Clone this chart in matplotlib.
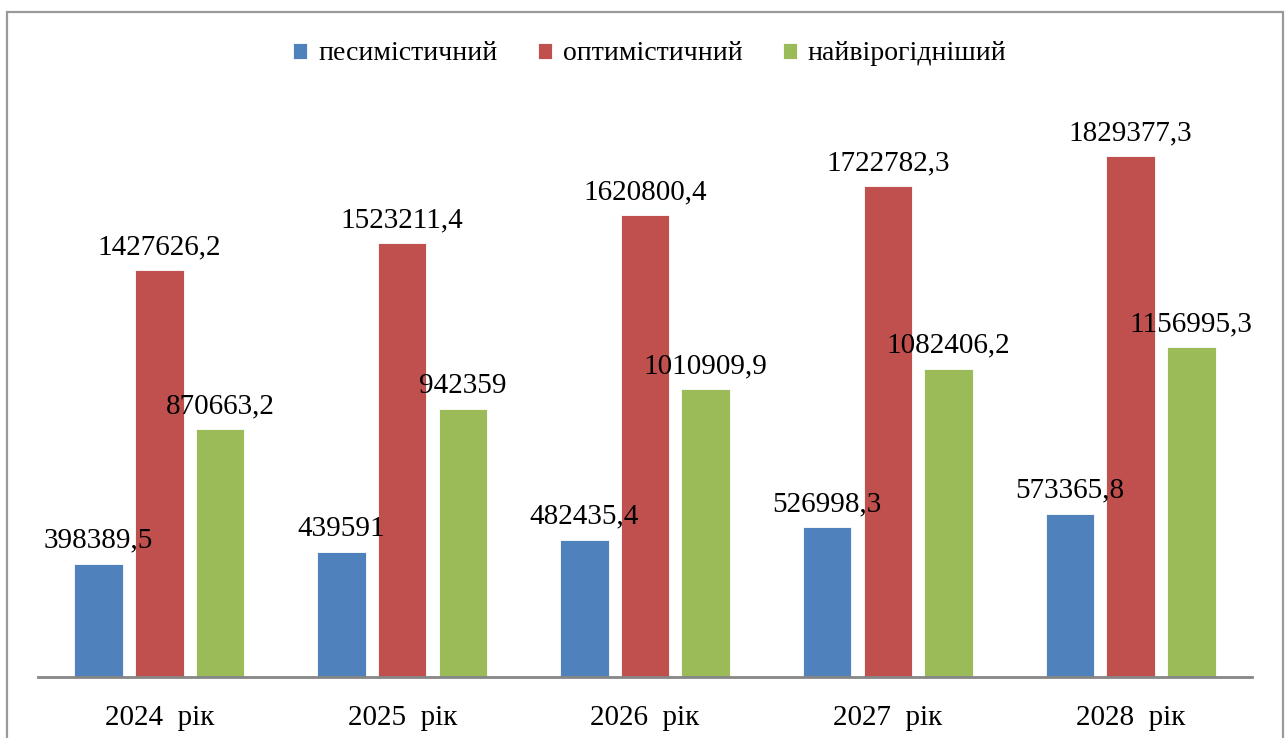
import matplotlib
matplotlib.use("Agg")
import matplotlib.pyplot as plt
import numpy as np
from matplotlib.patches import Rectangle

years = ["2024  рік", "2025  рік", "2026  рік", "2027  рік", "2028  рік"]
series_names = ["песимістичний", "оптимістичний", "найвірогідніший"]
pessimistic = [398389.5, 439591, 482435.4, 526998.3, 573365.8]
optimistic = [1427626.2, 1523211.4, 1620800.4, 1722782.3, 1829377.3]
most_likely = [870663.2, 942359, 1010909.9, 1082406.2, 1156995.3]
colors = ["#4F81BD", "#C0504D", "#9BBB59"]

plt.rcParams["font.family"] = ["Liberation Serif", "DejaVu Serif"]

W, H = 1287, 738
fig = plt.figure(figsize=(W / 100, H / 100), dpi=100)

# outer chart frame
fig.patches.append(Rectangle((7 / W, -0.05), (1283 - 7) / W, 1.05 - 12 / H,
                             transform=fig.transFigure, fill=False,
                             edgecolor="#9a9a9a", linewidth=1.6))

ax = fig.add_axes([38 / W, 61 / H, (1252 - 38) / W, (677 - 100) / H])
x = np.arange(len(years))
width = 0.2
offsets = [-0.25, 0.0, 0.25]


def fmt(v):
    s = f"{v:.1f}"
    if s.endswith(".0"):
        s = s[:-2]
    return s.replace(".", ",")


handles = []
for vals, off, col, name in zip([pessimistic, optimistic, most_likely], offsets, colors, series_names):
    bars = ax.bar(x + off, vals, width, color=col, edgecolor="white", linewidth=0.6, label=name)
    handles.append(bars)
    for xi, v in zip(x + off, vals):
        ax.annotate(fmt(v), (xi, v), xytext=(0, 11.5), textcoords="offset points",
                    ha="center", va="baseline", fontsize=21, color="black")

ax.set_xlim(-0.5, len(years) - 0.5)
ax.set_ylim(0, 577 * 3511)
ax.set_xticks(x)
ax.set_xticklabels(years, fontsize=21)
ax.tick_params(axis="x", length=0, pad=20)
ax.set_yticks([])
for side in ["top", "right", "left"]:
    ax.spines[side].set_visible(False)
ax.spines["bottom"].set_color("#868686")
ax.spines["bottom"].set_linewidth(2)

fig.legend(handles=handles, labels=series_names, loc="center", bbox_to_anchor=(650 / W, 1 - 54 / H),
           ncol=3, frameon=False, fontsize=20, handlelength=0.5, handleheight=0.5,
           handletextpad=0.4, columnspacing=1.45)

fig.savefig("out.png", dpi=100)
